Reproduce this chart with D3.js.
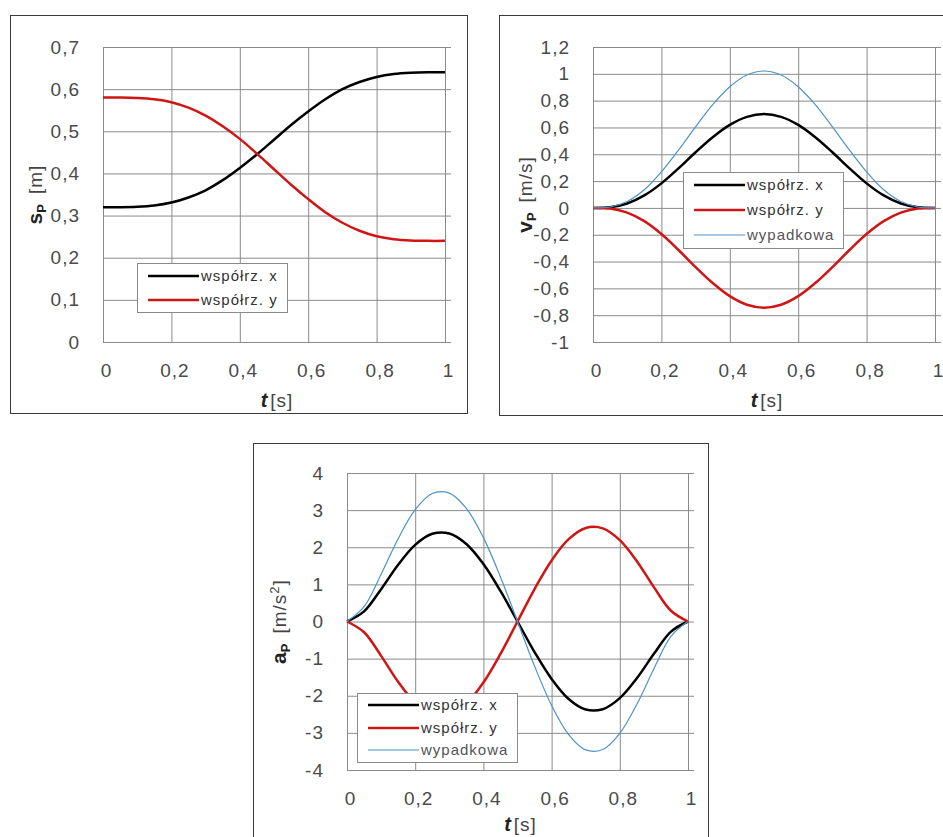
<!DOCTYPE html>
<html>
<head>
<meta charset="utf-8">
<script src="https://cdn.jsdelivr.net/npm/d3@7"></script>
<style>
body { margin: 0; background: #fff; }
svg { display: block; }
</style>
</head>
<body>
<script>
// czas [s]
const t = [0, 0.05, 0.1, 0.15, 0.2, 0.25, 0.3, 0.35, 0.4, 0.45, 0.5,
	0.55, 0.6, 0.65, 0.7, 0.75, 0.8, 0.85, 0.9, 0.95, 1];

// przemieszczenie [m]
const sX = [0.320, 0.320, 0.321, 0.324, 0.331, 0.343, 0.360, 0.384, 0.413, 0.445, 0.480,
	0.515, 0.547, 0.576, 0.600, 0.617, 0.629, 0.636, 0.639, 0.640, 0.640];
const sY = [0.580, 0.580, 0.579, 0.576, 0.569, 0.556, 0.537, 0.512, 0.482, 0.447, 0.410,
	0.373, 0.339, 0.308, 0.283, 0.264, 0.251, 0.244, 0.241, 0.240, 0.240];

// predkosc [m/s]
const vX = [0, 0.005, 0.033, 0.093, 0.183, 0.295, 0.415, 0.527, 0.619, 0.679, 0.700,
	0.679, 0.619, 0.527, 0.415, 0.295, 0.183, 0.093, 0.033, 0.005, 0];
const vY = [0, -0.005, -0.035, -0.099, -0.195, -0.314, -0.441, -0.560, -0.658, -0.722, -0.744,
	-0.722, -0.658, -0.560, -0.441, -0.314, -0.195, -0.099, -0.035, -0.005, 0];
const vR = [0, 0.007, 0.048, 0.135, 0.268, 0.431, 0.605, 0.770, 0.904, 0.991, 1.021,
	0.991, 0.904, 0.770, 0.605, 0.431, 0.268, 0.135, 0.048, 0.007, 0];

// przyspieszenie [m/s2]
const aX = [0, 0.273, 0.871, 1.529, 2.064, 2.362, 2.371, 2.087, 1.548, 0.823, 0,
	-0.823, -1.548, -2.087, -2.371, -2.362, -2.064, -1.529, -0.871, -0.273, 0];
const aY = [0, -0.290, -0.925, -1.625, -2.193, -2.510, -2.519, -2.217, -1.645, -0.875, 0,
	0.875, 1.645, 2.217, 2.519, 2.510, 2.193, 1.625, 0.925, 0.290, 0];
const aR = [0, 0.398, 1.271, 2.231, 3.012, 3.447, 3.459, 3.045, 2.259, 1.201, 0,
	-1.201, -2.259, -3.045, -3.459, -3.447, -3.012, -2.231, -1.271, -0.398, 0];

const xTicks = [0, 0.2, 0.4, 0.6, 0.8, 1];
const sTicks = [0, 0.1, 0.2, 0.3, 0.4, 0.5, 0.6, 0.7];
const vTicks = [-1, -0.8, -0.6, -0.4, -0.2, 0, 0.2, 0.4, 0.6, 0.8, 1, 1.2];
const aTicks = [-4, -3, -2, -1, 0, 1, 2, 3, 4];

const seriesNames = ["współrz. x", "współrz. y", "wypadkowa"];

const width = 943, height = 837;
const svg = d3.select("body").append("svg")
	.attr("width", width).attr("height", height)
	.style("font-family", "Arial, 'Liberation Sans', sans-serif");

const locale = d3.formatLocale({decimal: ",", thousands: " ", grouping: [3], currency: ["", ""], minus: "-"});
const fmt = locale.format("~g");

const styles = [
	{color: "#000000", width: 2.5},
	{color: "#d01515", width: 2.5},
	{color: "#4d93c6", width: 1.2}
];

function drawPanel(cfg)
{
	let g = svg.append("g");
	let p = cfg.plot;

	g.append("rect")
		.attr("x", cfg.frame.x + 0.5).attr("y", cfg.frame.y + 0.5)
		.attr("width", cfg.frame.w).attr("height", cfg.frame.h)
		.attr("fill", "#fff").attr("stroke", "#3a3a3a").attr("stroke-width", 1);

	let x = d3.scaleLinear().domain([0, 1]).range([p.x, p.x + p.w]);
	let y = d3.scaleLinear().domain(cfg.domain).range([p.y + p.h, p.y]);

	// siatka
	let gridY = g.append("g").attr("transform", `translate(${p.x},0)`)
		.call(d3.axisLeft(y).tickValues(cfg.yTicks).tickSize(-(p.w + 6)).tickFormat(""));
	let gridX = g.append("g").attr("transform", `translate(0,${p.y + p.h})`)
		.call(d3.axisBottom(x).tickValues(xTicks).tickSize(-p.h).tickFormat(""));
	[gridY, gridX].forEach(a => {
		a.select(".domain").remove();
		a.selectAll("line").attr("stroke", "#8a8a8a").attr("stroke-width", 1);
	});

	// opisy osi
	let yAx = g.append("g").attr("transform", `translate(${p.x},0)`)
		.call(d3.axisLeft(y).tickValues(cfg.yTicks).tickSize(0).tickPadding(23).tickFormat(fmt));
	let xAx = g.append("g").attr("transform", `translate(3,${p.y + p.h})`)
		.call(d3.axisBottom(x).tickValues(xTicks).tickSize(0).tickPadding(22).tickFormat(fmt));
	[yAx, xAx].forEach(a => {
		a.select(".domain").remove();
		a.selectAll("text")
			.attr("fill", "#4a4a4a")
			.style("font-size", "19px")
			.style("letter-spacing", "1px")
			.style("font-family", "Arial, 'Liberation Sans', sans-serif");
	});

	// tytul osi x
	let xt = g.append("text")
		.attr("x", p.x + p.w / 2 + 3).attr("y", p.y + p.h + cfg.xTitleOff)
		.attr("text-anchor", "middle").attr("fill", "#222");
	xt.append("tspan").text("t").style("font-weight", "bold").style("font-style", "italic").style("font-size", "20px");
	xt.append("tspan").text("[s]").attr("dx", 3).style("font-size", "19px").style("letter-spacing", "1px").attr("fill", "#444");

	// tytul osi y
	let yt = g.append("text")
		.attr("transform", `translate(${p.x - 61},${p.y + p.h / 2}) rotate(-90)`)
		.attr("text-anchor", "middle").attr("fill", "#222");
	yt.append("tspan").text(cfg.yVar).style("font-weight", "bold").style("font-size", "21px");
	yt.append("tspan").text("P").attr("dy", 4).style("font-weight", "bold").style("font-size", "13px");
	let unit = yt.append("tspan").attr("dy", -4).attr("dx", 10)
		.style("font-size", "19px").style("letter-spacing", "1px").attr("fill", "#444");
	unit.append("tspan").text(cfg.unit);
	if (cfg.unitSup) {
		unit.append("tspan").text(cfg.unitSup).attr("dy", -7).style("font-size", "13px");
		unit.append("tspan").text("]").attr("dy", 7);
	}

	// serie
	let line = d3.line()
		.x((d, i) => x(t[i]))
		.y(d => y(d))
		.curve(d3.curveCatmullRom.alpha(0.5));
	cfg.series.forEach((s, i) => {
		g.append("path")
			.datum(s)
			.attr("d", line)
			.attr("fill", "none")
			.attr("stroke", styles[i].color)
			.attr("stroke-width", styles[i].width)
			.attr("stroke-linejoin", "round");
	});

	// legenda
	let L = cfg.legend;
	let lg = g.append("g").attr("transform", `translate(${L.x},${L.y})`);
	lg.append("rect")
		.attr("x", 0.5).attr("y", 0.5).attr("width", L.w).attr("height", L.h)
		.attr("fill", "#fff").attr("stroke", "#8a8a8a");
	cfg.series.forEach((s, i) => {
		let ry = L.rows[i];
		lg.append("line")
			.attr("x1", 11).attr("x2", 62).attr("y1", ry).attr("y2", ry)
			.attr("stroke", styles[i].color).attr("stroke-width", styles[i].width);
		lg.append("text")
			.attr("x", 64).attr("y", ry).attr("dy", "0.35em")
			.attr("fill", i === 2 ? "#555" : "#333")
			.style("font-size", "15px").style("letter-spacing", "1px")
			.text(seriesNames[i]);
	});
}

drawPanel({
	frame: {x: 10, y: 15, w: 457, h: 398},
	plot: {x: 103, y: 47, w: 342, h: 295},
	domain: [0, 0.7], yTicks: sTicks,
	yVar: "s", unit: "[m]", xTitleOff: 65,
	series: [sX, sY],
	legend: {x: 137, y: 263, w: 150, h: 49, rows: [13, 37]}
});

drawPanel({
	frame: {x: 499, y: 15, w: 460, h: 400},
	plot: {x: 593, y: 47, w: 342, h: 295},
	domain: [-1, 1.2], yTicks: vTicks,
	yVar: "v", unit: "[m/s]", xTitleOff: 65,
	series: [vX, vY, vR],
	legend: {x: 683, y: 172, w: 160, h: 76, rows: [13, 38, 63]}
});

drawPanel({
	frame: {x: 253, y: 443, w: 455, h: 420},
	plot: {x: 347, y: 473, w: 341, h: 297},
	domain: [-4, 4], yTicks: aTicks,
	yVar: "a", unit: "[m/s", unitSup: "2", xTitleOff: 61,
	series: [aX, aY, aR],
	legend: {x: 357, y: 693, w: 160, h: 69, rows: [12, 35, 57]}
});
</script>
</body>
</html>
